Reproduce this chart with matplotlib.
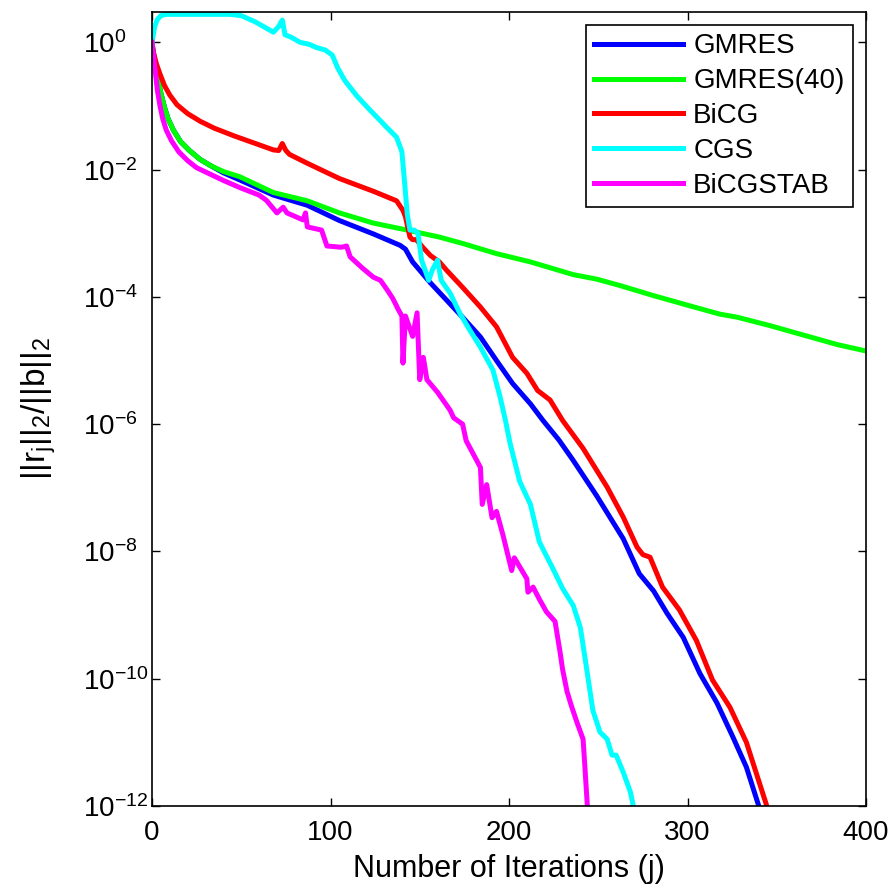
import matplotlib
matplotlib.use('Agg')  # no display in the sandbox

from matplotlib import pyplot as plt
from matplotlib.ticker import NullLocator
import numpy as np

plt.rcParams['font.family'] = ['Liberation Sans', 'DejaVu Sans']
plt.rcParams['mathtext.fontset'] = 'custom'
plt.rcParams['mathtext.rm'] = 'Liberation Sans'
plt.rcParams['mathtext.it'] = 'Liberation Sans'
plt.rcParams['mathtext.default'] = 'regular'

# Relative residual histories as (iteration, log10 of residual)
gmres_it = [0, 1, 2, 3.5, 5, 7, 9, 12, 16, 21, 27, 33, 40, 49, 68, 87, 105, 124, 139, 142,
            146, 156, 165, 174, 184, 193, 202, 212, 219, 228, 236, 249, 264, 273, 281, 288.5,
            297.6, 307, 316.5, 325.5, 333, 340.5]
gmres_exp = [0, -0.2, -0.38, -0.6, -0.8, -1.02, -1.2, -1.38, -1.56, -1.7, -1.84, -1.94,
             -2.05, -2.16, -2.4, -2.56, -2.8, -3.01, -3.19, -3.25, -3.45, -3.78, -4.05, -4.32,
             -4.63, -5.0, -5.36, -5.68, -5.94, -6.25, -6.57, -7.12, -7.8, -8.35, -8.62, -8.97,
             -9.35, -9.92, -10.38, -10.92, -11.39, -12.05]

gmres40_it = [0, 1, 2, 3.5, 5, 7, 9, 12, 16, 21, 27, 33, 40, 49, 68, 87, 105, 124, 143, 161,
              174, 193, 212, 236, 249, 262, 281, 300, 318, 328, 346, 365, 384, 400]
gmres40_exp = [0, -0.2, -0.38, -0.6, -0.8, -1.02, -1.2, -1.38, -1.56, -1.7, -1.84, -1.94,
               -2.03, -2.11, -2.36, -2.49, -2.68, -2.84, -2.95, -3.06, -3.16, -3.32, -3.45,
               -3.65, -3.72, -3.82, -3.98, -4.13, -4.27, -4.32, -4.45, -4.6, -4.75, -4.85]

bicg_it = [0, 1, 2.5, 4.5, 7, 10, 14, 20, 27, 35, 46, 57, 68, 71, 73, 75, 77, 87, 105, 124,
           137, 140.6, 142, 144.5, 146, 148, 152, 156, 161, 165, 174, 184, 193, 202, 210, 216,
           223, 230, 241.5, 255, 264, 271.7, 275, 279, 286, 295.5, 305, 314, 323.8, 333, 345]
bicg_exp = [-0.05, -0.18, -0.34, -0.5, -0.68, -0.83, -0.98, -1.12, -1.24, -1.35, -1.47, -1.58,
            -1.69, -1.7, -1.59, -1.7, -1.76, -1.9, -2.14, -2.34, -2.49, -2.64, -2.74, -3.06,
            -3.1, -3.1, -3.23, -3.35, -3.45, -3.58, -3.85, -4.16, -4.47, -4.95, -5.2, -5.47,
            -5.62, -5.94, -6.38, -6.99, -7.46, -7.93, -8.05, -8.09, -8.56, -8.92, -9.4,
            -10.02, -10.45, -11.0, -12.05]

cgs_it = [0, 1.5, 3, 5, 8, 44, 50, 58, 68, 71, 73, 74.5, 78, 83, 88, 92, 97, 101, 104, 108,
          115, 122, 132, 137, 140, 141.5, 143, 144.5, 147, 149, 151, 155, 157, 160, 162, 167,
          172.5, 178, 184, 191, 195, 198, 200.6, 206, 212, 217, 224.6, 230, 236, 240, 243.7,
          247, 251, 255, 257.7, 260, 264, 268, 270]
cgs_exp = [0, 0.25, 0.36, 0.42, 0.44, 0.44, 0.42, 0.32, 0.16, 0.25, 0.35, 0.12, 0.08, 0.0,
           -0.03, -0.08, -0.12, -0.2, -0.4, -0.6, -0.85, -1.06, -1.35, -1.49, -1.72, -2.2,
           -2.7, -2.95, -2.95, -3.0, -3.42, -3.74, -3.58, -3.42, -3.74, -3.94, -4.26, -4.52,
           -4.79, -5.15, -5.57, -5.94, -6.3, -6.9, -7.26, -7.85, -8.27, -8.58, -8.85, -9.2,
           -9.88, -10.5, -10.84, -10.95, -11.2, -11.2, -11.47, -11.78, -12.05]

bicgstab_it = [0, 1, 2, 3, 4.5, 6, 8, 11, 15, 20, 25, 31, 40, 49, 60, 64, 70, 73.5, 75.6,
               84.6, 86, 87, 95, 98, 106, 109, 111, 118, 124, 128, 132, 135, 138, 140, 140.6,
               142, 146, 148.5, 150, 152, 154, 160, 167, 169, 174, 176, 184, 185, 187.5,
               190.5, 193, 196.6, 201.5, 203, 210, 210.6, 213.5, 217, 221, 225.8, 228.6, 230,
               232.5, 235, 238, 241.5, 242.6, 244]
bicgstab_exp = [0, -0.25, -0.5, -0.75, -1.0, -1.2, -1.38, -1.55, -1.72, -1.86, -1.97, -2.05,
                -2.17, -2.28, -2.4, -2.48, -2.68, -2.59, -2.68, -2.79, -2.68, -2.9, -2.95,
                -3.2, -3.22, -3.2, -3.37, -3.55, -3.69, -3.74, -3.9, -4.03, -4.2, -4.3, -5.04,
                -4.3, -4.62, -4.25, -5.3, -4.95, -5.3, -5.5, -5.78, -5.9, -6.0, -6.26, -6.68,
                -7.26, -6.95, -7.47, -7.37, -7.74, -8.3, -8.1, -8.43, -8.64, -8.56, -8.75,
                -8.95, -9.1, -9.58, -9.85, -10.2, -10.43, -10.68, -10.95, -11.42, -12.05]

labels = ['GMRES', 'GMRES(40)', 'BiCG', 'CGS', 'BiCGSTAB']
colors = ['#0000ff', '#00ff00', '#ff0000', '#00ffff', '#ff00ff']
series = [(gmres_it, gmres_exp), (gmres40_it, gmres40_exp), (bicg_it, bicg_exp),
          (cgs_it, cgs_exp), (bicgstab_it, bicgstab_exp)]

fig = plt.figure(figsize=(8.93, 8.88), dpi=100)
ax = fig.add_axes([152 / 893., 1 - 806 / 888., 714 / 893., 794 / 888.])

for (it, ex), lab, col in zip(series, labels, colors):
    ax.semilogy(it, 10.0 ** np.array(ex), color=col, linewidth=3.6, label=lab,
                solid_joinstyle='round')

ax.set_xlim(0, 400)
ax.set_ylim(1e-12, 3)
ax.set_xticks([0, 100, 200, 300, 400])
ax.set_yticks([10.0 ** k for k in range(0, -13, -2)])
ax.yaxis.set_minor_locator(NullLocator())

ax.tick_params(which='both', direction='in', top=True, right=True, length=6, width=1,
               labelsize=20)
ax.tick_params(axis='x', pad=10)
ax.tick_params(axis='y', pad=50)
for lbl in ax.get_yticklabels():
    lbl.set_horizontalalignment('left')
for sp in ax.spines.values():
    sp.set_linewidth(1.2)

ax.set_xlabel('Number of Iterations (j)', fontsize=22, labelpad=6)
ax.set_ylabel(r'$||r_j||_2/||b||_2$', fontsize=24, labelpad=18)

leg = ax.legend(loc='upper right', fontsize=20, fancybox=False, framealpha=1,
                edgecolor='black', borderaxespad=0.47, borderpad=0.3, labelspacing=0.32,
                handlelength=3.2, handletextpad=0.36)
leg.get_frame().set_linewidth(1.2)

fig.savefig('out.png', dpi=100)
